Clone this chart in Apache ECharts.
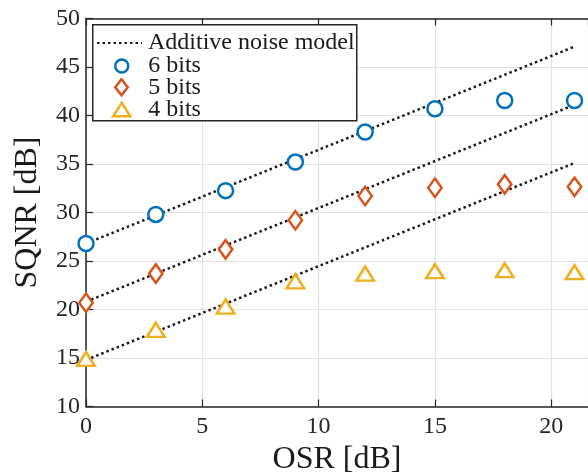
<!DOCTYPE html>
<html><head><meta charset="utf-8">
<script src="https://cdn.jsdelivr.net/npm/echarts@6/dist/echarts.min.js"></script>
<style>html,body{margin:0;padding:0;background:#fff}#c{width:588px;height:476px}</style>
</head><body><div id="c"></div>
<script>
const osr = [0, 3, 6, 9, 12, 15, 18, 21];
const bits6 = [26.8, 29.8, 32.25, 35.2, 38.3, 40.7, 41.55, 41.55];
const bits5 = [20.7, 23.7, 26.2, 29.2, 31.7, 32.55, 32.9, 32.65];
const bits4 = [14.9, 17.9, 20.3, 22.9, 23.7, 23.95, 24.05, 23.85];
const modelX = [0, 21];
const model6 = [26.8, 47.1];
const model5 = [20.8, 41.1];
const model4 = [14.8, 35.1];
const xTicks = [0, 5, 10, 15, 20];
const yTicks = [10, 15, 20, 25, 30, 35, 40, 45, 50];

const pair = (xs, ys) => xs.map((x, i) => [x, ys[i]]);
const font = 'Liberation Serif';
const axisCol = '#262626';
const C6 = '#0072BD', C5 = '#D95319', C4 = '#EDB120';
const lineStyleModel = { color: '#1a1a1a', width: 2.5, type: [2.5, 3] };
const modelSeries = (d) => ({
  name: 'Additive noise model', type: 'line', data: pair(modelX, d),
  showSymbol: false, symbol: 'none', lineStyle: lineStyleModel, itemStyle: { color: '#1a1a1a' },
  z: 2, silent: true
});
const scatter = (name, d, sym, size, col) => ({
  name, type: 'scatter', data: pair(osr, d), symbol: sym, symbolSize: size,
  itemStyle: { color: '#fff', borderColor: col, borderWidth: 2.5, opacity: 1 }, z: 5
});
const legTxt = (pl) => ({ fontFamily: font, fontSize: 24, color: '#1a1a1a', padding: [0, 0, 0, pl] });
const legBase = { orient: 'vertical', padding: 0, z: 10, selectedMode: false };
const chart = echarts.init(document.getElementById('c'));
chart.setOption({
  animation: false,
  backgroundColor: '#fff',
  grid: { left: 86, top: 18.5, width: 502, height: 388, containLabel: false, outerBoundsMode: 'none' },
  graphic: [{
    type: 'rect', left: 92, top: 24, z: 8,
    shape: { width: 264, height: 96 },
    style: { fill: '#fff', stroke: axisCol, lineWidth: 1.5 }
  }],
  legend: [
    Object.assign({}, legBase, {
      left: 96, top: 31, itemWidth: 45, itemHeight: 14,
      textStyle: legTxt(1),
      itemStyle: { color: 'rgba(0,0,0,0)', borderWidth: 0, opacity: 0 },
      data: [{ name: 'Additive noise model' }]
    }),
    Object.assign({}, legBase, {
      left: 114, top: 54, itemWidth: 13, itemHeight: 13,
      textStyle: legTxt(15),
      data: [{ name: '6 bits', icon: 'circle', itemStyle: { color: '#fff', borderColor: C6, borderWidth: 2.5 } }]
    }),
    Object.assign({}, legBase, {
      left: 114, top: 75.3, itemWidth: 12.5, itemHeight: 16,
      textStyle: legTxt(15.5),
      data: [{ name: '5 bits', icon: 'diamond', itemStyle: { color: '#fff', borderColor: C5, borderWidth: 2.5 } }]
    }),
    Object.assign({}, legBase, {
      left: 112, top: 97.5, itemWidth: 17, itemHeight: 13.5,
      textStyle: legTxt(13),
      data: [{ name: '4 bits', icon: 'triangle', itemStyle: { color: '#fff', borderColor: C4, borderWidth: 2.5 } }]
    })
  ],
  xAxis: [{
    type: 'value', min: 0, max: 21.58, interval: 5,
    name: 'OSR [dB]', nameLocation: 'middle', nameGap: 36,
    nameTextStyle: { fontFamily: font, fontSize: 32, color: '#1a1a1a' },
    axisLine: { lineStyle: { color: axisCol, width: 1.5 } },
    axisTick: { inside: true, length: 7, lineStyle: { color: axisCol, width: 1.2 } },
    axisLabel: { fontFamily: font, fontSize: 24, color: axisCol, margin: 8, showMaxLabel: false, hideOverlap: false },
    splitLine: { show: true, lineStyle: { color: '#e2e2e2', width: 1.2 } }
  }, {
    type: 'value', position: 'top', min: 0, max: 21.58, interval: 5,
    axisLine: { show: true, lineStyle: { color: axisCol, width: 1.5 } },
    axisTick: { show: true, inside: true, length: 7, lineStyle: { color: axisCol, width: 1.2 } },
    axisLabel: { show: false }, splitLine: { show: false }
  }],
  yAxis: {
    type: 'value', min: 10, max: 50, interval: 5,
    name: 'SQNR [dB]', nameLocation: 'middle', nameGap: 42,
    nameTextStyle: { fontFamily: font, fontSize: 32, color: '#1a1a1a' },
    axisLine: { show: true, lineStyle: { color: axisCol, width: 1.5 } },
    axisTick: { show: true, inside: true, length: 7, lineStyle: { color: axisCol, width: 1.2 } },
    axisLabel: { fontFamily: font, fontSize: 24, color: axisCol, margin: 6 },
    splitLine: { show: true, lineStyle: { color: '#e2e2e2', width: 1.2 } }
  },
  series: [
    modelSeries(model6),
    modelSeries(model5),
    modelSeries(model4),
    scatter('6 bits', bits6, 'circle', 15, C6),
    scatter('5 bits', bits5, 'diamond', [13.5, 18.5], C5),
    scatter('4 bits', bits4, 'triangle', [17.5, 14], C4)
  ]
});
</script></body></html>
